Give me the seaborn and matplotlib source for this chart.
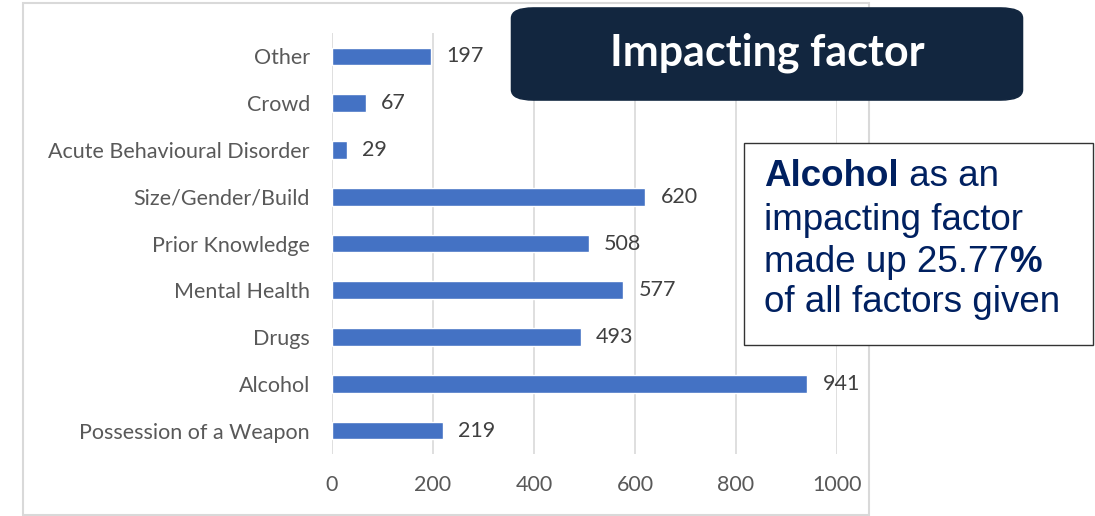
import matplotlib.pyplot as plt
import matplotlib.patches as mpatches
from matplotlib.text import Annotation
import seaborn as sns
import pandas as pd

categories = ["Other", "Crowd", "Acute Behavioural Disorder", "Size/Gender/Build",
              "Prior Knowledge", "Mental Health", "Drugs", "Alcohol",
              "Possession of a Weapon"]
counts = [197, 67, 29, 620, 508, 577, 493, 941, 219]
x_ticks = [0, 200, 400, 600, 800, 1000]

title_text = "Impacting factor"
# (bold start, regular middle, bold end) per line of the note box
note_lines = [("Alcohol", " as an", ""), ("", "impacting factor", ""),
              ("", "made up 25.77", "%"), ("", "of all factors given", "")]

bar_color = "#4472C4"
grid_color = "#D9D9D9"
label_color = "#595959"
navy = "#12263F"
note_color = "#002060"

sns.set_theme(style="white")
plt.rcParams['font.family'] = ['Lato', 'DejaVu Sans']

df = pd.DataFrame({"factor": categories, "count": counts})

fig = plt.figure(figsize=(10.95, 5.16), dpi=100)
ax = fig.add_axes([332 / 1095, 62 / 516, 505 / 1095, 421 / 516])

sns.barplot(data=df, x="count", y="factor", color=bar_color, width=0.38,
            saturation=1, ax=ax, zorder=3)

ax.set_xlim(0, 1000)
ax.set_xticks(x_ticks)
ax.xaxis.grid(True, color=grid_color, linewidth=1.2, zorder=0)
ax.set_axisbelow(True)
for s in ax.spines.values():
    s.set_visible(False)
ax.set_xlabel("")
ax.set_ylabel("")
ax.tick_params(axis="both", length=0, labelsize=15.5, labelcolor=label_color)
ax.tick_params(axis="x", pad=15)
ax.tick_params(axis="y", pad=16)

ax.bar_label(ax.containers[0], padding=11, fontsize=15.5, color="#404040")

# outer chart border
fig.patches.append(mpatches.Rectangle((23 / 1095, 1 / 516), 846 / 1095, 512 / 516,
                                      transform=fig.transFigure, fill=False,
                                      edgecolor=grid_color, linewidth=1.5))

# title box
title_box = mpatches.FancyBboxPatch((518 / 1095, (516 - 97) / 516), 498 / 1095, 86 / 516,
                                    boxstyle="round,pad=0.006,rounding_size=0.02",
                                    transform=fig.transFigure, facecolor=navy,
                                    edgecolor=navy, zorder=5)
fig.patches.append(title_box)
fig.text(767 / 1095, (516 - 53) / 516, title_text, color="white", fontsize=31,
         fontweight="bold", ha="center", va="center", zorder=6)

# note box
fig.patches.append(mpatches.Rectangle((744 / 1095, (516 - 345) / 516), 349 / 1095, 202 / 516,
                                      transform=fig.transFigure, facecolor="white",
                                      edgecolor="#333333", linewidth=1, zorder=5))
note_font = ['Liberation Sans', 'DejaVu Sans']
note_size = 26.5
line_y = [177, 221, 263, 302]
for (head, mid, tail), y in zip(note_lines, line_y):
    yy = (516 - y) / 516
    prev = None
    for piece, weight in [(head, "bold"), (mid, "normal"), (tail, "bold")]:
        if not piece:
            continue
        if prev is None:
            prev = fig.text(764 / 1095, yy, piece, fontsize=note_size, fontweight=weight,
                            color=note_color, family=note_font, va="center", zorder=6)
        else:
            a = Annotation(piece, xy=(1, 0), xycoords=prev, va="bottom", ha="left",
                           fontsize=note_size, fontweight=weight, color=note_color,
                           family=note_font, zorder=6)
            fig.add_artist(a)
            prev = a

fig.savefig("out.png", dpi=100)
